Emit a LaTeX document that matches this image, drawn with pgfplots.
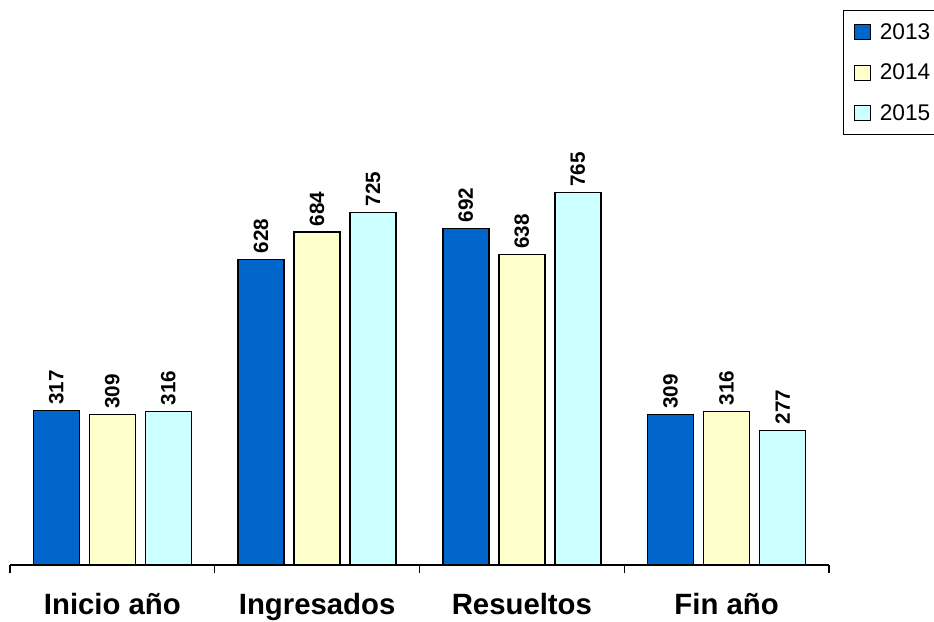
\documentclass[border=0pt]{standalone}
\usepackage{pgfplots}
\pgfplotsset{compat=1.18}
\usepackage{fontspec}
\setmainfont{Liberation Sans}
\definecolor{c2013}{RGB}{0,102,204}
\definecolor{c2014}{RGB}{255,255,204}
\definecolor{c2015}{RGB}{204,255,255}
\begin{document}
\begin{tikzpicture}
  \begin{axis}[
    scale only axis,
    width=614.25pt, height=328.5pt,
    xmin=-0.5, xmax=3.5,
    ymin=0, ymax=900,
    axis x line=bottom,
    axis y line=none,
    x axis line style={-, line width=0.9pt},
    ybar=7.5pt,
    bar width=34.5pt,
    xtick={0,1,2,3},
    xticklabels={Inicio año, Ingresados, Resueltos, Fin año},
    major x tick style={draw=none},
    minor xtick={-0.5,0.5,1.5,2.5,3.5},
    minor tick length=6pt,
    xtick align=outside,
    minor x tick style={line width=0.9pt, black},
    xticklabel style={font=\fontsize{22}{26}\selectfont\bfseries, inner sep=0pt, yshift=-17pt},
    clip=false,
    /pgf/number format/assume math mode=true,
    nodes near coords,
    nodes near coords style={rotate=90, anchor=west, font=\fontsize{15.5}{18}\selectfont\bfseries, inner sep=4pt},
    legend style={at={(axis description cs:1.017,1.267)}, anchor=north west,
      font=\fontsize{17}{20}\selectfont, draw=black, line width=0.9pt,
      inner xsep=8pt, inner ysep=7.5pt, row sep=13pt,
      /tikz/every odd column/.append style={column sep=5pt}},
    legend cell align=left,
    legend image code/.code={\draw[#1, draw=black, line width=0.75pt] (0pt,-5.8pt) rectangle (11.5pt,5.8pt);},
  ]
    \addplot[fill=c2013, draw=black, line width=1pt] coordinates {(0,317) (1,628) (2,692) (3,309)};
    \addlegendentry{2013}
    \addplot[fill=c2014, draw=black, line width=1pt] coordinates {(0,309) (1,684) (2,638) (3,316)};
    \addlegendentry{2014}
    \addplot[fill=c2015, draw=black, line width=1pt] coordinates {(0,316) (1,725) (2,765) (3,277)};
    \addlegendentry{2015}
  \end{axis}
  % page frame in pt (1px = 0.75pt); the legend box runs past the right edge as in the original
  \pgfresetboundingbox
  \path[use as bounding box] (-7.5pt,-42pt) rectangle (693pt,423.75pt);
\end{tikzpicture}
\end{document}
